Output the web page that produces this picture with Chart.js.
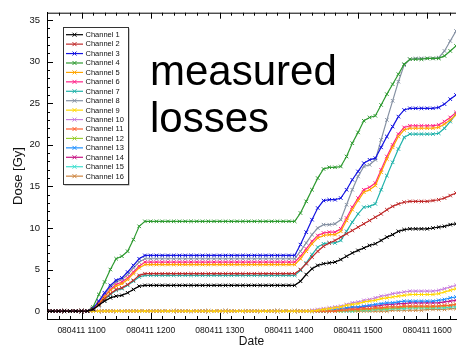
<!DOCTYPE html>
<html>
<head>
<meta charset="utf-8">
<script src="https://cdn.jsdelivr.net/npm/chart.js@4.4.0/dist/chart.umd.min.js"></script>
<style>
html,body{margin:0;padding:0;background:#fff;}
#wrap{width:461px;height:351px;}
</style>
</head>
<body>
<div id="wrap"><canvas id="myChart" width="461" height="351"></canvas></div>
<script>
// sample times (HHMM), 5 minute steps
var times = [
  "1030","1035","1040","1045","1050","1055",
  "1100","1105","1110","1115","1120","1125","1130","1135","1140","1145","1150","1155",
  "1200","1205","1210","1215","1220","1225","1230","1235","1240","1245","1250","1255",
  "1300","1305","1310","1315","1320","1325","1330","1335","1340","1345","1350","1355",
  "1400","1405","1410","1415","1420","1425","1430","1435","1440","1445","1450","1455",
  "1500","1505","1510","1515","1520","1525","1530","1535","1540","1545","1550","1555",
  "1600","1605","1610","1615","1620","1625"
];
var datePrefix = "080411";
var hourTicks = ["1100","1200","1300","1400","1500","1600"];
var doseTicks = [0,5,10,15,20,25,30,35];

var channelNames = ["Channel 1","Channel 2","Channel 3","Channel 4","Channel 5","Channel 6","Channel 7","Channel 8",
  "Channel 9","Channel 10","Channel 11","Channel 12","Channel 13","Channel 14","Channel 15","Channel 16"];
var channelColors = ["#000000","#bf2a2a","#1414e0","#2e9a30","#ffa500","#ff2288","#20b2aa","#8591a3",
  "#ffd700","#c87fe0","#ff6030","#9acd32","#1e90ff","#c71585","#40e0d0","#cd853f"];

// dose per channel [Gy]
var ch1 = [0,0,0,0,0,0,0,0,
  0.2,0.7,1.2,1.6,1.8,1.9,2.2,2.6,3.0,3.1,
  3.1,3.1,3.1,3.1,3.1,3.1,3.1,3.1,3.1,3.1,3.1,3.1,3.1,3.1,3.1,3.1,3.1,3.1,3.1,3.1,3.1,3.1,3.1,3.1,3.1,3.1,
  3.6,4.4,5.1,5.5,5.7,5.8,5.9,6.2,6.6,7.0,7.3,7.6,7.9,8.1,8.5,8.9,9.2,9.6,9.8,9.9,9.9,9.9,9.9,10.0,10.1,10.2,10.4,10.5];
var ch2 = [0,0,0,0,0,0,0,0,
  0.2,0.8,1.5,2.1,2.6,2.8,3.2,3.7,4.3,4.5,
  4.5,4.5,4.5,4.5,4.5,4.5,4.5,4.5,4.5,4.5,4.5,4.5,4.5,4.5,4.5,4.5,4.5,4.5,4.5,4.5,4.5,4.5,4.5,4.5,4.5,4.5,
  5.0,5.7,6.5,7.2,7.8,8.2,8.5,8.9,9.3,9.7,10.1,10.5,10.9,11.3,11.7,12.2,12.6,12.9,13.1,13.2,13.2,13.2,13.2,13.3,13.4,13.6,13.9,14.2];
var ch3 = [0,0,0,0,0,0,0,0,
  0.3,1.2,2.2,3.1,3.7,4.0,4.7,5.5,6.3,6.7,
  6.7,6.7,6.7,6.7,6.7,6.7,6.7,6.7,6.7,6.7,6.7,6.7,6.7,6.7,6.7,6.7,6.7,6.7,6.7,6.7,6.7,6.7,6.7,6.7,6.7,6.7,
  8.0,9.5,11.0,12.4,13.3,13.4,13.4,13.6,14.6,15.8,16.8,17.8,18.2,18.4,19.7,21.0,22.2,23.4,24.2,24.4,24.4,24.4,24.4,24.4,24.5,24.9,25.5,26.0];
var ch4 = [0,0,0,0,0,0,0,0,
  0.5,2.0,3.5,5.0,6.3,6.6,7.2,8.6,10.2,10.8,
  10.8,10.8,10.8,10.8,10.8,10.8,10.8,10.8,10.8,10.8,10.8,10.8,10.8,10.8,10.8,10.8,10.8,10.8,10.8,10.8,10.8,10.8,10.8,10.8,10.8,10.8,
  11.8,13.2,14.6,16.0,17.1,17.3,17.3,17.4,18.6,20.2,21.5,22.9,23.3,23.5,24.8,26.1,27.3,28.5,29.7,30.3,30.3,30.3,30.4,30.4,30.4,30.7,31.3,31.9];
var ch5 = [0,0,0,0,0,0,0,0,
  0.3,0.9,1.7,2.5,3.0,3.3,3.8,4.5,5.2,5.6,
  5.6,5.6,5.6,5.6,5.6,5.6,5.6,5.6,5.6,5.6,5.6,5.6,5.6,5.6,5.6,5.6,5.6,5.6,5.6,5.6,5.6,5.6,5.6,5.6,5.6,5.6,
  6.3,7.2,8.1,8.8,9.1,9.2,9.2,9.6,10.9,12.2,13.3,14.3,14.6,15.1,16.7,18.3,19.7,21.0,21.8,22.0,22.0,22.0,22.0,22.0,22.1,22.5,23.0,23.6];
var ch6 = [0,0,0,0,0,0,0,0,
  0.3,1.0,1.8,2.6,3.2,3.5,4.0,4.7,5.4,5.9,
  5.9,5.9,5.9,5.9,5.9,5.9,5.9,5.9,5.9,5.9,5.9,5.9,5.9,5.9,5.9,5.9,5.9,5.9,5.9,5.9,5.9,5.9,5.9,5.9,5.9,5.9,
  6.6,7.5,8.4,9.1,9.4,9.5,9.5,9.9,11.2,12.5,13.6,14.6,14.9,15.4,17.0,18.6,20.0,21.3,22.1,22.3,22.3,22.3,22.3,22.3,22.4,22.8,23.3,23.9];
var ch7 = [0,0,0,0,0,0,0,0,
  0.2,0.8,1.4,2.0,2.5,2.7,3.1,3.6,4.1,4.3,
  4.3,4.3,4.3,4.3,4.3,4.3,4.3,4.3,4.3,4.3,4.3,4.3,4.3,4.3,4.3,4.3,4.3,4.3,4.3,4.3,4.3,4.3,4.3,4.3,4.3,4.3,
  4.9,5.8,6.8,7.7,8.1,8.2,8.2,8.5,9.6,10.7,11.7,12.5,12.6,12.9,14.6,16.3,17.9,19.5,20.9,21.3,21.3,21.3,21.3,21.3,21.4,22.0,22.8,23.7];
var ch8 = [0,0,0,0,0,0,0,0,
  0.3,1.1,2.0,2.9,3.5,3.8,4.4,5.2,5.9,6.3,
  6.3,6.3,6.3,6.3,6.3,6.3,6.3,6.3,6.3,6.3,6.3,6.3,6.3,6.3,6.3,6.3,6.3,6.3,6.3,6.3,6.3,6.3,6.3,6.3,6.3,6.3,
  7.2,8.2,9.2,10.0,10.4,10.4,10.5,11.0,12.8,14.6,16.2,17.4,17.6,18.2,20.6,23.0,25.3,27.6,29.6,30.3,30.4,30.4,30.4,30.4,30.5,31.3,32.5,33.7];
var ch9 = [0,0,0,0,0,0,0,0,0,0,0,0,0,0,0,0,0,0,0,0,0,0,0,0,0,0,0,0,0,0,0,0,0,0,0,0,0,0,0,0,0,0,0,0,0,0,
  0,0.1,0.2,0.3,0.4,0.5,0.7,0.8,0.9,1.1,1.2,1.3,1.5,1.6,1.7,1.8,1.9,2.0,2.0,2.0,2.0,2.0,2.1,2.3,2.5,2.7];
var ch10 = [0,0,0,0,0,0,0,0,0,0,0,0,0,0,0,0,0,0,0,0,0,0,0,0,0,0,0,0,0,0,0,0,0,0,0,0,0,0,0,0,0,0,0,0,0,0,
  0.1,0.2,0.3,0.4,0.5,0.6,0.8,1.0,1.1,1.3,1.4,1.6,1.8,1.9,2.1,2.2,2.3,2.4,2.4,2.4,2.4,2.4,2.5,2.7,2.9,3.1];
var ch11 = [0,0,0,0,0,0,0,0,0,0,0,0,0,0,0,0,0,0,0,0,0,0,0,0,0,0,0,0,0,0,0,0,0,0,0,0,0,0,0,0,0,0,0,0,0,0,
  0,0,0,0,0,0.1,0.1,0.2,0.2,0.3,0.3,0.4,0.4,0.5,0.5,0.5,0.6,0.6,0.6,0.6,0.6,0.6,0.6,0.7,0.7,0.8];
var ch12 = [0,0,0,0,0,0,0,0,0,0,0,0,0,0,0,0,0,0,0,0,0,0,0,0,0,0,0,0,0,0,0,0,0,0,0,0,0,0,0,0,0,0,0,0,0,0,
  0,0,0,0,0,0,0.1,0.1,0.1,0.2,0.2,0.3,0.3,0.3,0.4,0.4,0.5,0.5,0.5,0.5,0.5,0.5,0.6,0.6,0.7,0.8];
var ch13 = [0,0,0,0,0,0,0,0,0,0,0,0,0,0,0,0,0,0,0,0,0,0,0,0,0,0,0,0,0,0,0,0,0,0,0,0,0,0,0,0,0,0,0,0,0,0,
  0,0,0,0.1,0.2,0.3,0.4,0.5,0.5,0.6,0.7,0.8,0.9,1.0,1.0,1.1,1.2,1.2,1.2,1.2,1.2,1.2,1.3,1.4,1.6,1.7];
var ch14 = [0,0,0,0,0,0,0,0,0,0,0,0,0,0,0,0,0,0,0,0,0,0,0,0,0,0,0,0,0,0,0,0,0,0,0,0,0,0,0,0,0,0,0,0,0,0,
  0,0,0,0,0.1,0.2,0.3,0.4,0.4,0.5,0.6,0.6,0.7,0.8,0.8,0.9,0.9,1.0,1.0,1.0,1.0,1.0,1.0,1.1,1.2,1.3];
var ch15 = [0,0,0,0,0,0,0,0,0,0,0,0,0,0,0,0,0,0,0,0,0,0,0,0,0,0,0,0,0,0,0,0,0,0,0,0,0,0,0,0,0,0,0,0,0,0,
  0,0,0,0,0,0,0,0,0.1,0.1,0.1,0.2,0.2,0.2,0.3,0.3,0.3,0.4,0.4,0.4,0.4,0.4,0.4,0.4,0.5,0.5];
var ch16 = [0,0,0,0,0,0,0,0,0,0,0,0,0,0,0,0,0,0,0,0,0,0,0,0,0,0,0,0,0,0,0,0,0,0,0,0,0,0,0,0,0,0,0,0,0,0,
  0,0,0,0,0,0,0,0,0,0,0,0,0,0,0.1,0.1,0.1,0.1,0.1,0.1,0.2,0.2,0.2,0.2,0.3,0.3];

var channels = [ch1,ch2,ch3,ch4,ch5,ch6,ch7,ch8,ch9,ch10,ch11,ch12,ch13,ch14,ch15,ch16];
var noteLines = ["measured","losses"];
var yTitle = "Dose [Gy]";

var FONT = "'Liberation Sans', Arial, sans-serif";

function toMinutes(hhmm) {
  return parseInt(hhmm.slice(0,2),10)*60 + parseInt(hhmm.slice(2),10);
}
function toHHMM(min) {
  var h = Math.floor(min/60), m = Math.round(min%60);
  return String(h).padStart(2,"0") + String(m).padStart(2,"0");
}

var datasets = channels.map(function(vals, i) {
  return {
    label: channelNames[i],
    data: vals.map(function(v, j) { return {x: toMinutes(times[j]), y: v}; }),
    borderColor: channelColors[i],
    backgroundColor: channelColors[i],
    borderWidth: 1.2,
    pointStyle: "crossRot",
    pointRadius: 2.5,
    pointBorderWidth: 1,
    fill: false,
    tension: 0
  };
});

// inward tick marks, top frame line, y axis title
var axisTicks = {
  id: "axisTicks",
  afterDraw: function(chart) {
    var ctx = chart.ctx, a = chart.chartArea, x = chart.scales.x, y = chart.scales.y;
    ctx.save();
    ctx.strokeStyle = "#000";
    ctx.lineWidth = 1;
    ctx.beginPath();
    ctx.moveTo(a.left, a.top + 0.5);
    ctx.lineTo(a.right, a.top + 0.5);
    var majors = hourTicks.map(toMinutes);
    for (var m = x.min - x.min % 10 + 10; m <= x.max; m += 10) {
      var px = Math.round(x.getPixelForValue(m)) + 0.5;
      var len = majors.indexOf(m) >= 0 ? 6 : 3;
      ctx.moveTo(px, a.bottom); ctx.lineTo(px, a.bottom - len);
      ctx.moveTo(px, a.top); ctx.lineTo(px, a.top + len);
    }
    for (var v = 0; v <= 35; v++) {
      var py = Math.round(y.getPixelForValue(v)) + 0.5;
      var l = doseTicks.indexOf(v) >= 0 ? 6 : 3;
      ctx.moveTo(a.left, py); ctx.lineTo(a.left + l, py);
    }
    ctx.stroke();

    ctx.translate(18, 176);
    ctx.rotate(-Math.PI / 2);
    ctx.font = "13px " + FONT;
    ctx.fillStyle = "#111";
    ctx.textAlign = "center";
    ctx.textBaseline = "middle";
    ctx.fillText(yTitle, 0, 0);
    ctx.restore();
  }
};

// legend box inside the plot
var boxLegend = {
  id: "boxLegend",
  afterDraw: function(chart) {
    var ctx = chart.ctx;
    var bx = 63.5, by = 27.5, bw = 65, bh = 157, row = 9.43;
    ctx.save();
    ctx.fillStyle = "#999";
    ctx.fillRect(bx + 1, by + 1, bw, bh);
    ctx.fillStyle = "#fff";
    ctx.fillRect(bx, by, bw, bh);
    ctx.strokeStyle = "#333";
    ctx.lineWidth = 1;
    ctx.strokeRect(bx, by, bw, bh);
    ctx.font = "7.5px " + FONT;
    ctx.textBaseline = "middle";
    chart.data.datasets.forEach(function(ds, i) {
      var cy = 34.7 + i * row;
      ctx.strokeStyle = ds.borderColor;
      ctx.lineWidth = 1.2;
      ctx.beginPath();
      ctx.moveTo(66, cy); ctx.lineTo(83, cy);
      ctx.stroke();
      ctx.lineWidth = 1;
      ctx.beginPath();
      ctx.moveTo(72.5, cy - 2); ctx.lineTo(76.5, cy + 2);
      ctx.moveTo(72.5, cy + 2); ctx.lineTo(76.5, cy - 2);
      ctx.stroke();
      ctx.fillStyle = "#111";
      ctx.fillText(ds.label, 85.5, cy + 0.3);
    });
    ctx.font = "42px " + FONT;
    ctx.fillStyle = "#000";
    ctx.textBaseline = "alphabetic";
    ctx.fillText(noteLines[0], 150, 85);
    ctx.fillText(noteLines[1], 150, 132);
    ctx.restore();
  }
};

var mychart = new Chart(document.getElementById("myChart").getContext("2d"), {
  type: "line",
  data: { datasets: datasets },
  options: {
    responsive: false,
    animation: false,
    devicePixelRatio: 1,
    layout: { padding: { top: 10, left: 0, right: 0, bottom: 0 } },
    plugins: { legend: { display: false }, tooltip: { enabled: false } },
    scales: {
      x: {
        type: "linear",
        min: toMinutes("1030"),
        max: 985,
        afterBuildTicks: function(s) { s.ticks = hourTicks.map(function(t) { return {value: toMinutes(t)}; }); },
        afterFit: function(s) { s.height = 32; },
        grid: { display: false, drawTicks: false },
        border: { display: true, color: "#000", width: 1 },
        ticks: {
          autoSkip: false, maxRotation: 0, padding: 7, color: "#111",
          font: { family: FONT, size: 8.5 },
          callback: function(v) { return datePrefix + " " + toHHMM(v); }
        },
        title: { display: true, text: "Date", color: "#111", font: { family: FONT, size: 12 }, padding: { top: 0, bottom: 2 } }
      },
      y: {
        min: -0.95,
        max: 35.9,
        afterBuildTicks: function(s) { s.ticks = doseTicks.map(function(v) { return {value: v}; }); },
        afterFit: function(s) { s.width = 47; },
        grid: { display: false, drawTicks: false },
        border: { display: true, color: "#000", width: 1 },
        ticks: { padding: 7, color: "#111", font: { family: FONT, size: 9.5 } },
        title: { display: false }
      }
    }
  },
  plugins: [axisTicks, boxLegend]
});
</script>
</body>
</html>
